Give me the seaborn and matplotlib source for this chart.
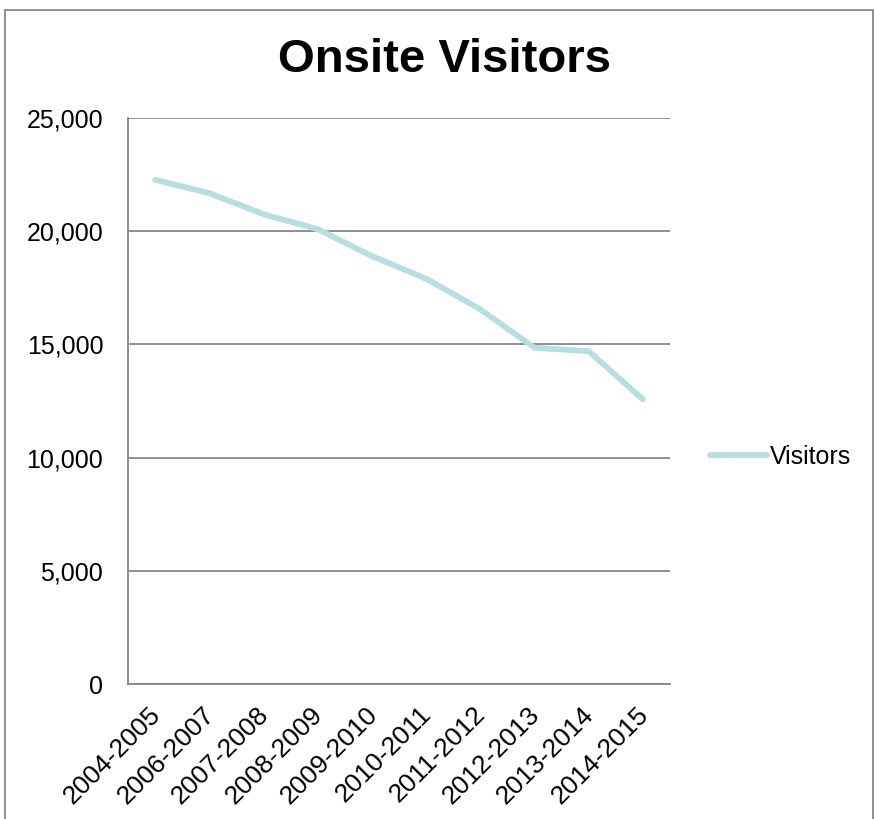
import numpy as np
import pandas as pd
import seaborn as sns
import matplotlib.pyplot as plt
import matplotlib.transforms as mtransforms
from matplotlib.patches import Rectangle
from matplotlib.ticker import FuncFormatter, FixedLocator

# Data
seasons = ["2004-2005", "2006-2007", "2007-2008", "2008-2009", "2009-2010",
           "2010-2011", "2011-2012", "2012-2013", "2013-2014", "2014-2015"]
visitors = [22270, 21680, 20750, 20090, 18900, 17900, 16550, 14850, 14700, 12570]
y_ticks = [0, 5000, 10000, 15000, 20000, 25000]

df = pd.DataFrame({"season": seasons, "Visitors": visitors})
df["pos"] = np.arange(len(seasons))

sns.set_style("white")
plt.rcParams["font.family"] = ["Liberation Sans", "DejaVu Sans"]
plt.rcParams["text.color"] = "black"
plt.rcParams["xtick.color"] = "black"
plt.rcParams["ytick.color"] = "black"

grey = "#868686"
fig = plt.figure(figsize=(8.74, 8.19), dpi=100)
ax = fig.add_axes([128 / 874, 1 - 684 / 819, (670 - 128) / 874, (684 - 118) / 819])

sns.lineplot(data=df, x="pos", y="Visitors", ax=ax, color="#B7DEE1",
             linewidth=4.2, label="Visitors", solid_capstyle="round")

ax.set_xlim(-0.5, len(seasons) - 0.5)
ax.set_ylim(0, 25000)
ax.set_yticks(y_ticks)
ax.yaxis.set_major_formatter(FuncFormatter(lambda v, p: f"{int(v):,}"))
ax.grid(axis="y", color=grey, linewidth=1.3)
ax.set_axisbelow(True)

# category labels at centres, tick marks at boundaries
ax.set_xticks(df["pos"])
ax.set_xticklabels(seasons, rotation=45, ha="right", va="top",
                   rotation_mode="anchor", fontsize=19)
ax.xaxis.set_minor_locator(FixedLocator(np.arange(-0.5, len(seasons), 1.0)))
ax.tick_params(axis="x", which="major", length=0, pad=13)
ax.tick_params(axis="x", which="minor", length=5.8, width=1.3, color=grey, direction="out")
ax.tick_params(axis="y", length=5.8, width=1.3, color=grey, direction="out",
               labelsize=18, pad=12, labelcolor="black")
ax.set_xlabel("")
ax.set_ylabel("")

# nudge the rotated labels a little to the left, like the original
shift = mtransforms.ScaledTranslation(-7 / 100, 0, fig.dpi_scale_trans)
for tick in ax.xaxis.get_major_ticks():
    tick.label1.set_transform(tick.label1.get_transform() + shift)

for side in ["top", "right"]:
    ax.spines[side].set_visible(False)
for side in ["left", "bottom"]:
    ax.spines[side].set_color(grey)
    ax.spines[side].set_linewidth(1.3)

ax.legend(loc="center left", bbox_to_anchor=(1.055, (684 - 457) / 566), frameon=False,
          fontsize=18, handlelength=2.3, handletextpad=0.12, borderaxespad=0)

fig.text(445 / 874, 1 - 60 / 819, "Onsite Visitors", ha="center", va="center",
         fontsize=34, fontweight="bold")

# outer chart frame
fig.patches.append(Rectangle((5 / 874, -0.01), (873 - 5) / 874, 1.01 - 9.5 / 819,
                             transform=fig.transFigure, fill=False,
                             edgecolor=grey, linewidth=1.3))

fig.savefig("out.png", dpi=100)
